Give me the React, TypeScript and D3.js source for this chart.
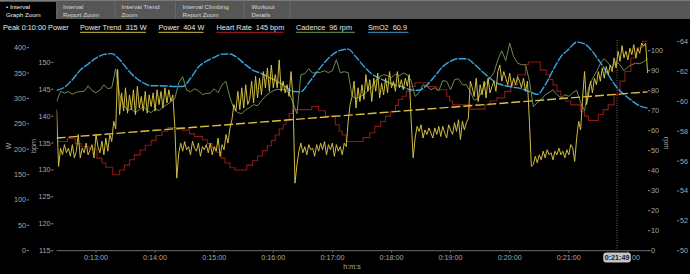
import React from "react";
import * as d3 from "d3";

// ---------- DATA ----------
const startSec = 740; // 0:12:20
const endSec = 1340; // 0:22:20
const cursorSec = 1309; // 0:21:49

const powerStepSec = 2;
const powerW = [
  278, 166, 202, 189, 209, 193, 202, 186, 209, 183,
  196, 229, 183, 202, 193, 212, 189, 199, 209, 183,
  229, 205, 193, 216, 189, 222, 196, 229, 215, 255,
  240, 357, 268, 311, 275, 321, 271, 307, 278, 317,
  268, 324, 281, 304, 275, 314, 271, 307, 284, 311,
  275, 317, 288, 314, 281, 321, 291, 317, 294, 307,
  245, 143, 192, 212, 196, 215, 199, 205, 189, 216,
  202, 196, 212, 186, 205, 199, 209, 193, 212, 189,
  205, 196, 222, 186, 209, 199, 229, 212, 242, 258,
  288, 275, 314, 278, 321, 281, 327, 288, 298, 334,
  291, 344, 301, 340, 307, 353, 321, 360, 314, 366,
  321, 347, 321, 376, 314, 334, 311, 327, 304, 353,
  301, 133, 169, 196, 212, 193, 205, 189, 209, 199,
  202, 186, 209, 196, 212, 199, 215, 189, 209, 199,
  212, 186, 209, 196, 205, 189, 212, 205, 255, 288,
  304, 334, 281, 321, 294, 327, 298, 347, 314, 337,
  294, 340, 314, 350, 301, 330, 307, 340, 311, 353,
  321, 334, 314, 353, 321, 337, 317, 340, 324, 347,
  255, 183, 222, 245, 235, 248, 222, 238, 229, 242,
  232, 222, 242, 229, 245, 225, 245, 232, 222, 248,
  238, 229, 252, 235, 258, 219, 255, 238, 252, 261,
  334, 321, 304, 340, 294, 327, 307, 334, 301, 340,
  311, 324, 334, 314, 353, 366, 334, 353, 340, 327,
  350, 324, 340, 327, 343, 334, 321, 340, 314, 334,
  255, 166, 170, 186, 173, 189, 179, 196, 183, 199,
  189, 193, 179, 196, 189, 202, 189, 196, 183, 199,
  189, 209, 202, 176, 222, 255, 238, 301, 353, 288,
  307, 334, 311, 340, 327, 353, 334, 360, 340, 363,
  347, 366, 353, 380, 360, 393, 373, 404, 380, 393,
  376, 399, 386, 406, 380, 399, 389, 409, 403, 409,
  350,
];

const powerTrendW = [222, 313];

const cadenceStepSec = 4;
const cadenceRpm = [
  74.5, 79.7, 78.9, 79.5, 78.2, 79.2, 79.6, 79.7, 82.5, 80,
  79, 80.3, 83, 81, 81.5, 91, 78, 73, 70, 71,
  69, 70.5, 72, 70, 69, 71, 70, 72, 73, 74.5,
  76, 84, 87, 80.3, 79.5, 81, 80, 78, 78.7, 78.7,
  81, 79, 83, 84.7, 76.5, 71, 69, 68.5, 70.5, 71.5,
  73, 72.5, 75, 77.2, 78.8, 80, 80.7, 80.5, 80.5, 79,
  74, 68.5, 88, 88.5, 91, 88.8, 89, 89.2, 90, 89,
  90, 95.5, 89, 89.5, 89, 77.2, 76, 77, 78, 80,
  82, 85, 87, 88, 87.5, 86.5, 88.3, 87.5, 88.8, 88,
  85, 77.2, 79, 83, 82.2, 80.5, 81.5, 80, 85, 84.7,
  80.5, 85.5, 86, 83, 83, 79.5, 75.3, 76, 80, 84,
  86.3, 89, 95.5, 100, 95, 103.8, 97, 93.8, 93, 93,
  85, 72, 74, 75.5, 78, 79, 80.5, 78, 76.5, 78,
  77.2, 79, 80.2, 74, 70, 81.3, 86, 89.5, 93.5, 96,
  93.8, 91.5, 94.5, 93, 90, 92, 93, 93.8, 93.5, 94.5,
  96,
];

const smo2StepSec = 8;
const smo2Pct = [
  60.75, 60.95, 61.45, 62.1, 62.5, 62.9, 63.15, 63.2, 62.8, 62.15,
  61.6, 61.25, 61.05, 61.05, 61.03, 61.0, 61.0, 61.55, 62.3, 62.7,
  62.95, 63.17, 63.18, 62.9, 62.45, 62.07, 61.87, 61.6, 61.35, 61.01,
  60.66, 60.65, 61.25, 61.95, 62.6, 63.13, 63.42, 63.5, 62.97, 62.35,
  61.83, 61.55, 61.3, 61.1, 60.95, 60.76, 60.75, 61.1, 61.7, 62.33,
  62.7, 62.86, 62.86, 62.5, 62.0, 61.55, 61.2, 61.05, 60.95, 60.85,
  60.65, 60.47, 61.1, 62.1, 63.0, 63.5, 63.97, 63.85, 63.35, 62.6,
  61.79, 61.0, 60.48, 60.05, 59.7, 59.55,
];

const hrSeconds = [
  0, 11, 19, 25, 33, 41, 46, 50, 57, 64,
  69, 74, 79, 85, 90, 96, 101, 107, 113, 128,
  135, 140, 148, 153, 158, 162, 167, 171, 176, 181,
  193, 199, 204, 209, 214, 218, 222, 226, 230, 233,
  236, 240, 259, 266, 273, 283, 287, 290, 294, 311,
  318, 323, 329, 334, 339, 344, 347, 351, 355, 359,
  364, 377, 386, 396, 399, 402, 420, 435, 440, 447,
  455, 461, 468, 476, 479, 491, 497, 501, 504, 508,
  512, 517, 522, 532, 536, 540, 550, 555, 560, 566,
  572, 577, 583, 589, 595, 600,
];
const hrBpm = [
  135.3, 135.9, 134.9, 134.3, 133.9, 132.2, 131.3, 130.5, 129.1, 130.0,
  130.9, 131.9, 132.8, 133.7, 134.6, 135.5, 136.4, 137.2, 137.9, 137.4,
  136.7, 136.2, 135.6, 134.9, 134.1, 133.3, 132.2, 131.3, 130.4, 130.0,
  130.9, 131.7, 132.6, 133.6, 134.5, 135.5, 136.5, 137.6, 138.5, 139.3,
  140.5, 141.2, 141.8, 141.0, 140.0, 138.4, 137.2, 136.5, 135.3, 136.0,
  136.9, 138.1, 139.0, 140.0, 140.9, 142.0, 143.1, 143.7, 144.6, 145.5,
  146.2, 145.5, 144.9, 143.7, 142.8, 142.1, 141.3, 142.1, 142.8, 143.4,
  144.6, 145.8, 147.7, 149.6, 150.05, 148.6, 147.7, 146.8, 145.8, 144.6,
  143.4, 142.8, 142.1, 140.9, 140.0, 139.2, 140.3, 141.2, 142.1, 144.0,
  146.5, 148.3, 150.8, 152.7, 153.9, 153.9,
];

const timeTicks = [780, 840, 900, 960, 1020, 1080, 1140, 1200, 1260, 1320];
const wTicks = [0, 50, 100, 150, 200, 250, 300, 350, 400];
const bpmTicks = [115, 120, 125, 130, 135, 140, 145, 150];
const rpmTicks = [0, 10, 20, 30, 40, 50, 60, 70, 80, 90, 100];
const smo2Ticks = [50, 52, 54, 56, 58, 60, 62, 64];

const tabLabels = [
  ["• Interval", "Graph Zoom"],
  ["Interval", "Report Zoom"],
  ["Interval Trend", "Zoom"],
  ["Interval Climbing", "Report Zoom"],
  ["Workout", "Details"],
];
const legendLabels = [
  "Peak 0:10:00 Power",
  "Power Trend  315 W",
  "Power  404 W",
  "Heart Rate  145 bpm",
  "Cadence  96 rpm",
  "SmO2  60.9",
];

// ---------- LAYOUT / STYLE ----------
const W = 690;
const H = 274;
const plotL = 56.6;
const plotR = 647.6;
const plotB = 250.7;
const font = "'Liberation Sans', Arial, Helvetica, sans-serif";
const axisColor = "#a8a8a8";
const tabX = [6, 63, 121.5, 182.5, 251.5];
const tabSeps = [57, 115, 175.5, 244, 290];
const legendX = [3, 80, 158.5, 216.5, 296, 368];
const legendUnderlineW = [0, 66, 45, 67, 59, 40.5];
const legendUnderline = [null, "#d9c43f", "#d9c43f", "#b3201e", "#6f9a52", "#3a9fdc"];
const colors = {
  power: "#d9c641",
  trend: "#d8bf44",
  hr: "#861b19",
  cad: "#6e8b53",
  smo2: "#38a4df",
};

const fmtTime = (s: number) => {
  const h = Math.floor(s / 3600);
  const m = Math.floor((s % 3600) / 60);
  const sec = s % 60;
  return `${h}:${String(m).padStart(2, "0")}:${String(sec).padStart(2, "0")}`;
};

export default function App() {
  const x = d3.scaleLinear().domain([startSec, endSec]).range([plotL, plotR]);
  const yW = d3.scaleLinear().domain([0, 400]).range([plotB, 47.7]);
  const yBpm = d3.scaleLinear().domain([115, 150]).range([plotB, 62.3]);
  const yRpm = d3.scaleLinear().domain([0, 100]).range([plotB, 50.7]);
  const ySm = d3.scaleLinear().domain([50, 64]).range([plotB, 41.7]);

  const powerLine = d3
    .line<number>()
    .x((_, i) => x(startSec + i * powerStepSec))
    .y((d) => yW(d));
  const cadLine = d3
    .line<number>()
    .x((_, i) => x(startSec + i * cadenceStepSec))
    .y((d) => yRpm(d));
  const smLine = d3
    .line<number>()
    .x((_, i) => x(startSec + i * smo2StepSec))
    .y((d) => ySm(d))
    .curve(d3.curveMonotoneX);
  const hrLine = d3
    .line<number>()
    .x((_, i) => x(startSec + hrSeconds[i]))
    .y((d) => yBpm(d))
    .curve(d3.curveStepAfter);
  const trendLine = d3
    .line<number>()
    .x((_, i) => x(i === 0 ? startSec : endSec))
    .y((d) => yW(d));

  const cx = x(cursorSec);
  const boxL = cx - 13.8;
  const boxR = cx + 13.8;

  return (
    <svg
      width={W}
      height={H}
      style={{ position: "absolute", left: 0, top: 0, background: "#000" }}
      fontFamily={font}
    >
      <rect x={0} y={0} width={W} height={H} fill="#000" />
      {/* tab bar */}
      <rect x={0} y={0} width={W} height={19} fill="#565656" />
      <line x1={0} x2={W} y1={0.5} y2={0.5} stroke="#7a7a7a" />
      <rect x={0} y={2} width={56} height={17} fill="#000" />
      {tabSeps.map((sx, i) => (
        <line key={i} x1={sx} x2={sx} y1={2} y2={19} stroke="#6c6c6c" strokeWidth={0.8} />
      ))}
      {tabLabels.map((t, i) => (
        <g key={i} fontSize={6.2} fill={i === 0 ? "#f2f2f2" : "#d6d6d6"}>
          <text x={tabX[i]} y={8.8}>{t[0]}</text>
          <text x={tabX[i]} y={16.8}>{t[1]}</text>
        </g>
      ))}

      {/* legend row */}
      {legendLabels.map((l, i) => (
        <g key={i}>
          <text
            x={legendX[i]}
            y={30}
            fontSize={7.3}
            fill="#e6e6e6"
            style={{ whiteSpace: "pre" }}
          >
            {l}
          </text>
          {legendUnderline[i] && (
            <line
              x1={legendX[i]}
              x2={legendX[i] + legendUnderlineW[i]}
              y1={32.3}
              y2={32.3}
              stroke={legendUnderline[i] as string}
              strokeWidth={1}
            />
          )}
        </g>
      ))}

      {/* left axes */}
      <g fontSize={7.2} fill={axisColor}>
        {wTicks.map((v) => (
          <g key={"w" + v}>
            <text x={26} y={yW(v) + 2.5} textAnchor="end">{v}</text>
            <line x1={26.8} x2={29} y1={yW(v)} y2={yW(v)} stroke={axisColor} strokeWidth={0.8} />
          </g>
        ))}
        {bpmTicks.map((v) => (
          <g key={"b" + v}>
            <text x={50.5} y={yBpm(v) + 2.5} textAnchor="end">{v}</text>
            <line x1={51.2} x2={53.4} y1={yBpm(v)} y2={yBpm(v)} stroke={axisColor} strokeWidth={0.8} />
          </g>
        ))}
        <text transform={`translate(11,146) rotate(-90)`} textAnchor="middle">W</text>
        <text transform={`translate(35.5,146) rotate(-90)`} textAnchor="middle">bpm</text>
      </g>

      {/* right axes */}
      <g fontSize={7.2} fill={axisColor}>
        {rpmTicks.map((v) => (
          <g key={"r" + v}>
            <line x1={648} x2={650.3} y1={yRpm(v)} y2={yRpm(v)} stroke={axisColor} strokeWidth={0.8} />
            <text x={651} y={yRpm(v) + 2.5}>{v}</text>
          </g>
        ))}
        {smo2Ticks.map((v) => (
          <g key={"s" + v}>
            <line x1={677} x2={679.3} y1={ySm(v)} y2={ySm(v)} stroke={axisColor} strokeWidth={0.8} />
            <text x={680} y={ySm(v) + 2.5}>{v}</text>
          </g>
        ))}
        <text transform={`translate(664,143) rotate(90)`} textAnchor="middle">rpm</text>
      </g>

      {/* x axis */}
      <line x1={plotL} x2={plotR + 0.5} y1={plotB} y2={plotB} stroke="#6a6a6a" strokeWidth={1} />
      <g fontSize={7.2} fill={axisColor}>
        {timeTicks.map((t) => {
          const label = fmtTime(t);
          const tx = x(t);
          const hidden = tx - 12 < boxR && tx + 12 > boxL;
          return (
            <g key={t}>
              <line x1={tx} x2={tx} y1={plotB} y2={plotB + 2} stroke="#6a6a6a" />
              {hidden ? (
                // only the tail of the label peeks out beside the cursor box
                <text x={tx + 12} y={260} textAnchor="end">{label.slice(-2)}</text>
              ) : (
                <text x={tx} y={260} textAnchor="middle">{label}</text>
              )}
            </g>
          );
        })}
        <text x={352} y={268.5} textAnchor="middle">h:m:s</text>
      </g>

      {/* series */}
      <defs>
        <clipPath id="plotClip">
          <rect x={plotL} y={38} width={plotR - plotL + 1} height={plotB - 38} />
        </clipPath>
      </defs>
      <g clipPath="url(#plotClip)" fill="none">
        <path d={hrLine(hrBpm) || ""} stroke={colors.hr} strokeWidth={1.1} />
        <path d={cadLine(cadenceRpm) || ""} stroke={colors.cad} strokeWidth={1} />
        <path d={smLine(smo2Pct) || ""} stroke={colors.smo2} strokeWidth={1.4} strokeDasharray="8,1.2" />
        <path d={powerLine(powerW) || ""} stroke={colors.power} strokeWidth={0.95} strokeLinejoin="round" />
        <path d={trendLine(powerTrendW) || ""} stroke={colors.trend} strokeWidth={1.4} strokeDasharray="9,3" />
      </g>

      {/* cursor */}
      <line x1={cx} x2={cx} y1={40} y2={plotB} stroke="#8a8a8a" strokeWidth={0.8} strokeDasharray="1,1.5" />
      <rect x={boxL} y={252.5} width={boxR - boxL} height={10} rx={3} fill="#c4c4c4" />
      <text x={cx} y={260.3} textAnchor="middle" fontSize={7.2} fontWeight="bold" fill="#1a1a1a">
        {fmtTime(cursorSec)}
      </text>
    </svg>
  );
}
